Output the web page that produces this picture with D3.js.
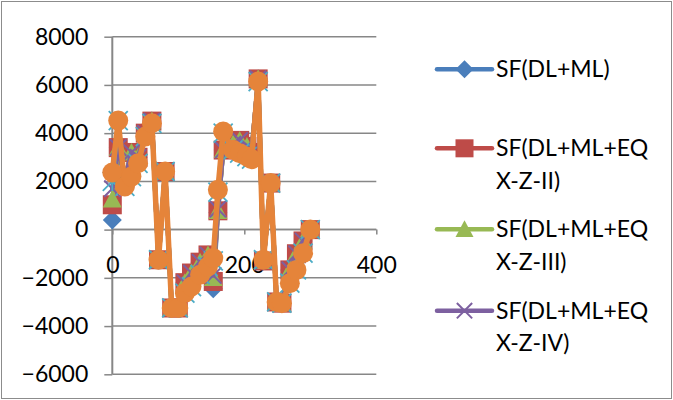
<!DOCTYPE html>
<html>
<head>
<meta charset="utf-8">
<script src="https://cdn.jsdelivr.net/npm/d3@7"></script>
<style>
  body { margin: 0; background: #fff; }
  text { font-family: Lato, "Liberation Sans", sans-serif; fill: #000; }
</style>
</head>
<body>
<svg id="chart" width="673" height="400"></svg>
<script>
// Station positions along the member
const stations = [0, 9, 19, 29, 39, 50, 60, 70, 80, 90, 100, 110, 120, 133, 145, 153, 160, 168, 183, 193, 204, 211, 221, 229, 240, 249, 257, 269, 279, 289, 300];

// Shear force for each load combination
const sfDLML      = [400, 3400, 2100, 3200, 3000, 4000, 4500, -1250, 2410, -3250, -3250, -2200, -1800, -1350, -1050, -2450, 700, 3300, 3550, 3700, 3450, 3200, 6250, -1300, 1930, -3000, -3050, -1670, -1000, -470, 0];
const sfEqXZII    = [1030, 3400, 2100, 3200, 3000, 4000, 4500, -1250, 2410, -3250, -3250, -2200, -1800, -1350, -1050, -2150, 780, 3300, 3550, 3700, 3450, 3200, 6250, -1300, 1930, -3000, -3050, -1670, -1000, -470, 0];
const sfEqXZIII   = [1250, 3400, 2100, 3200, 3000, 4000, 4500, -1250, 2410, -3250, -3250, -2200, -1800, -1350, -1050, -2000, 780, 3300, 3550, 3700, 3450, 3200, 6250, -1300, 1930, -3000, -3050, -1670, -1000, -470, 0];
const sfEqXZIV    = [1700, 3400, 2100, 3200, 3000, 4000, 4500, -1250, 2410, -3250, -3250, -2200, -1800, -1350, -1050, -1900, 850, 3300, 3550, 3700, 3450, 3200, 6250, -1300, 1930, -3000, -3050, -1670, -1000, -470, 0];
const sfEqXZV     = [2000, 4520, 1790, 2200, 2750, 3860, 4410, -1250, 2410, -3250, -3250, -2630, -2360, -1870, -1530, -1300, 1550, 4000, 3310, 3170, 3030, 2920, 6140, -1250, 1930, -3000, -3050, -2220, -1670, -975, 0];
const sfEqXZVI    = [2370, 4520, 1790, 2200, 2750, 3860, 4410, -1250, 2410, -3250, -3250, -2630, -2360, -1870, -1530, -1180, 1650, 4070, 3310, 3170, 3030, 2920, 6140, -1250, 1930, -3000, -3050, -2220, -1670, -975, 0];

const yTicks = [-6000, -4000, -2000, 0, 2000, 4000, 6000, 8000];
const xTicks = [0, 200, 400];

const legendLabels = [
  ["SF(DL+ML)"],
  ["SF(DL+ML+EQ", "X-Z-II)"],
  ["SF(DL+ML+EQ", "X-Z-III)"],
  ["SF(DL+ML+EQ", "X-Z-IV)"]
];

const series = [
  { values: sfDLML,    color: "#4A7EBB", marker: "diamond",  width: 4.5 },
  { values: sfEqXZII,  color: "#BE4B48", marker: "square",   width: 4.5 },
  { values: sfEqXZIII, color: "#98B954", marker: "triangle", width: 4.5 },
  { values: sfEqXZIV,  color: "#7D60A0", marker: "x",        width: 4.5 },
  { values: sfEqXZV,   color: "#4BACC6", marker: "star",     width: 4.5 },
  { values: sfEqXZVI,  color: "#E5843A", marker: "circle",   width: 5.5 }
];

const svg = d3.select("#chart");
const W = 673, H = 400;

// chart frame
svg.append("rect").attr("x", 1.5).attr("y", 1.5).attr("width", W - 3).attr("height", H - 3)
  .attr("fill", "#fff").attr("stroke", "#8c8c8c").attr("stroke-width", 1);

const x = d3.scaleLinear().domain([0, 400]).range([112.3, 376.3]);
const y = d3.scaleLinear().domain([-6000, 8000]).range([374.3, 36.7]);

// horizontal gridlines
svg.append("g").selectAll("line").data(yTicks).join("line")
  .attr("x1", x(0)).attr("x2", x(400))
  .attr("y1", d => y(d)).attr("y2", d => y(d))
  .attr("stroke", "#878787").attr("stroke-width", 1.5);

// vertical axis
const yAxis = svg.append("g").attr("transform", `translate(${x(0)},0)`)
  .call(d3.axisLeft(y).tickValues(yTicks).tickSize(8).tickPadding(16).tickFormat(d3.format("d")));
yAxis.select(".domain").attr("stroke", "#878787").attr("stroke-width", 2)
  .attr("d", `M0,${y(8000)}V${y(-6000)}`);
yAxis.selectAll(".tick line").attr("stroke", "#878787").attr("stroke-width", 1.5);
yAxis.selectAll(".tick text").attr("font-size", 23).attr("font-family", "Lato, sans-serif").attr("fill", "#000");

// horizontal axis crossing at zero
const xAxis = svg.append("g").attr("transform", `translate(0,${y(0)})`)
  .call(d3.axisBottom(x).tickValues(xTicks).tickSize(5).tickPadding(22).tickFormat(d3.format("d")));
xAxis.select(".domain").attr("stroke", "#878787").attr("stroke-width", 1.5)
  .attr("d", `M${x(0)},0H${x(400)}`);
xAxis.selectAll(".tick line").attr("stroke", "#878787").attr("stroke-width", 1.5);
xAxis.selectAll(".tick text").attr("font-size", 23).attr("font-family", "Lato, sans-serif").attr("fill", "#000");

// marker drawing
function drawMarker(g, type, color, s) {
  const h = s / 2;
  if (type === "diamond") {
    g.append("path").attr("d", `M0,${-h}L${h},0L0,${h}L${-h},0Z`).attr("fill", color);
  } else if (type === "square") {
    g.append("rect").attr("x", -h).attr("y", -h).attr("width", s).attr("height", s).attr("fill", color);
  } else if (type === "triangle") {
    g.append("path").attr("d", `M0,${-h}L${h},${h * 0.85}L${-h},${h * 0.85}Z`).attr("fill", color);
  } else if (type === "x") {
    g.append("path").attr("d", `M${-h * 0.85},${-h * 0.85}L${h * 0.85},${h * 0.85}M${h * 0.85},${-h * 0.85}L${-h * 0.85},${h * 0.85}`)
      .attr("stroke", color).attr("stroke-width", 2).attr("fill", "none");
  } else if (type === "star") {
    g.append("path").attr("d", `M${-h},${-h}L${h},${h}M${h},${-h}L${-h},${h}M0,${-h}L0,${h}`)
      .attr("stroke", color).attr("stroke-width", 1.8).attr("fill", "none");
  } else if (type === "circle") {
    g.append("circle").attr("r", h).attr("fill", color);
  }
}

const line = d3.line().x(d => x(d[0])).y(d => y(d[1]));

series.forEach(s => {
  const pts = stations.map((st, i) => [st, s.values[i]]);
  const g = svg.append("g");
  g.append("path").datum(pts).attr("d", line)
    .attr("fill", "none").attr("stroke", s.color).attr("stroke-width", s.width)
    .attr("stroke-linejoin", "round").attr("stroke-linecap", "round");
  const size = s.marker === "circle" ? 20 : 19;
  g.selectAll("g.m").data(pts).join("g").attr("class", "m")
    .attr("transform", d => `translate(${x(d[0])},${y(d[1])})`)
    .each(function () { drawMarker(d3.select(this), s.marker, s.color, size); });
});

// legend
const legendY = [69.3, 148.3, 229.3, 310.7];
legendLabels.forEach((lines, i) => {
  const s = series[i];
  const g = svg.append("g").attr("transform", `translate(0,${legendY[i]})`);
  g.append("line").attr("x1", 437).attr("x2", 492).attr("y1", 0).attr("y2", 0)
    .attr("stroke", s.color).attr("stroke-width", 4.5).attr("stroke-linecap", "round");
  const mg = g.append("g").attr("transform", "translate(464.5,0)");
  drawMarker(mg, s.marker, s.color, 18);
  lines.forEach((t, k) => {
    g.append("text").attr("x", 496).attr("y", 8 + k * 32.5).attr("font-size", 23).text(t);
  });
});
</script>
</body>
</html>
